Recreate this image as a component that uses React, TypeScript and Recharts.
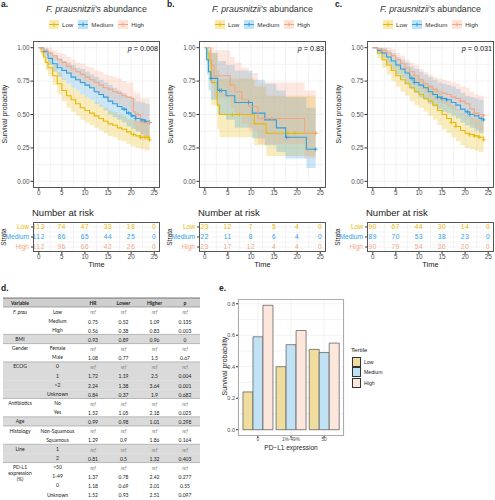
import React from 'react';
import { ComposedChart, ScatterChart, BarChart, Line, Area, Scatter, Bar, XAxis, YAxis, CartesianGrid } from 'recharts';

// ---- Kaplan-Meier curves (time in months) ----
const A_LOW_T = [0, 0.5, 1, 1.5, 2, 3, 4, 5, 6, 7, 8, 9, 10, 11, 12, 13, 14, 15, 16, 17, 18, 19, 20, 21, 22, 23, 24];
const A_LOW_S = [1, 0.97, 0.93, 0.89, 0.85, 0.79, 0.73, 0.68, 0.64, 0.61, 0.58, 0.55, 0.53, 0.51, 0.49, 0.47, 0.45, 0.43, 0.42, 0.4, 0.39, 0.37, 0.35, 0.34, 0.33, 0.33, 0.31];
const A_LOW_LO = [1, 0.94, 0.89, 0.83, 0.79, 0.72, 0.65, 0.6, 0.55, 0.52, 0.49, 0.46, 0.44, 0.42, 0.4, 0.38, 0.36, 0.34, 0.33, 0.31, 0.3, 0.28, 0.26, 0.25, 0.24, 0.23, 0.21];
const A_LOW_HI = [1, 1, 0.98, 0.95, 0.92, 0.87, 0.82, 0.77, 0.73, 0.7, 0.68, 0.65, 0.63, 0.61, 0.59, 0.57, 0.55, 0.53, 0.52, 0.5, 0.49, 0.47, 0.46, 0.45, 0.44, 0.44, 0.42];
const A_LOW_CENS = [20.5, 22, 23, 23.7, 24];

const A_MED_T = [0, 1, 2, 3, 4, 5, 6, 7, 8, 9, 10, 11, 12, 13, 14, 15, 16, 17, 18, 19, 20, 21, 22, 23, 24];
const A_MED_S = [1, 0.97, 0.92, 0.88, 0.85, 0.83, 0.81, 0.78, 0.76, 0.74, 0.72, 0.7, 0.67, 0.65, 0.63, 0.6, 0.58, 0.56, 0.54, 0.51, 0.49, 0.47, 0.46, 0.45, 0.44];
const A_MED_LO = [1, 0.94, 0.87, 0.82, 0.78, 0.76, 0.73, 0.7, 0.68, 0.65, 0.63, 0.61, 0.58, 0.56, 0.53, 0.5, 0.48, 0.46, 0.44, 0.41, 0.39, 0.37, 0.35, 0.34, 0.33];
const A_MED_HI = [1, 1, 0.97, 0.94, 0.92, 0.9, 0.89, 0.87, 0.85, 0.84, 0.82, 0.8, 0.78, 0.76, 0.74, 0.72, 0.7, 0.68, 0.66, 0.63, 0.62, 0.6, 0.59, 0.58, 0.58];
const A_MED_CENS = [18.5, 19.5, 20.2, 21, 22.3, 23, 24];

const A_HIGH_T = [0, 1, 2, 3, 4, 5, 6, 7, 8, 9, 10, 11, 12, 13, 14, 15, 16, 17, 18, 19, 20, 20.5, 21, 22, 24];
const A_HIGH_S = [1, 0.98, 0.96, 0.94, 0.91, 0.89, 0.86, 0.84, 0.82, 0.8, 0.78, 0.76, 0.74, 0.72, 0.7, 0.69, 0.67, 0.66, 0.64, 0.63, 0.62, 0.52, 0.5, 0.44, 0.44];
const A_HIGH_LO = [1, 0.96, 0.93, 0.9, 0.86, 0.84, 0.8, 0.78, 0.75, 0.73, 0.71, 0.69, 0.66, 0.64, 0.62, 0.6, 0.58, 0.57, 0.55, 0.53, 0.51, 0.4, 0.38, 0.31, 0.31];
const A_HIGH_HI = [1, 1, 1, 0.98, 0.96, 0.95, 0.93, 0.91, 0.89, 0.88, 0.86, 0.85, 0.83, 0.82, 0.8, 0.79, 0.78, 0.77, 0.75, 0.74, 0.74, 0.67, 0.66, 0.62, 0.62];
const A_HIGH_CENS = [21.5, 23.5, 24];

const B_LOW_T = [0, 0.4, 0.9, 1.4, 2.7, 3.2, 10.7, 13.3, 24];
const B_LOW_S = [1, 0.96, 0.91, 0.74, 0.57, 0.5, 0.43, 0.36, 0.36];
const B_LOW_LO = [1, 0.88, 0.79, 0.57, 0.39, 0.33, 0.27, 0.19, 0.19];
const B_LOW_HI = [1, 1, 1, 0.96, 0.83, 0.77, 0.71, 0.64, 0.64];
const B_LOW_CENS = [6, 7.5, 18, 19.5, 24];

const B_MED_T = [0, 0.4, 0.8, 1.3, 2.8, 4.6, 6.5, 10.3, 13, 15.5, 17.5, 22, 24];
const B_MED_S = [1, 0.91, 0.82, 0.77, 0.68, 0.64, 0.59, 0.51, 0.46, 0.4, 0.33, 0.24, 0.24];
const B_MED_LO = [1, 0.8, 0.68, 0.61, 0.5, 0.46, 0.4, 0.32, 0.27, 0.22, 0.17, 0.1, 0.1];
const B_MED_HI = [1, 1, 0.98, 0.96, 0.9, 0.87, 0.83, 0.76, 0.73, 0.68, 0.63, 0.55, 0.55];
const B_MED_CENS = [1.3, 3.2, 3.6, 9.5, 17.7, 24];

const B_HIGH_T = [0, 1.3, 2, 5.5, 6.5, 8, 9.5, 11.5, 21.6, 24];
const B_HIGH_S = [1, 0.87, 0.79, 0.72, 0.67, 0.61, 0.56, 0.47, 0.36, 0.36];
const B_HIGH_LO = [1, 0.73, 0.63, 0.55, 0.5, 0.43, 0.38, 0.28, 0.17, 0.17];
const B_HIGH_HI = [1, 1, 0.98, 0.93, 0.89, 0.85, 0.81, 0.74, 0.68, 0.68];
const B_HIGH_CENS = [12.5, 13.5, 14.5, 24];

const C_T = [0, 1, 2, 3, 4, 5, 6, 7, 8, 9, 10, 11, 12, 13, 14, 15, 16, 17, 18, 19, 20, 21, 22, 23, 24];
const C_LOW_S = [1, 0.96, 0.91, 0.87, 0.83, 0.79, 0.76, 0.73, 0.7, 0.67, 0.65, 0.62, 0.6, 0.57, 0.53, 0.5, 0.47, 0.44, 0.41, 0.38, 0.36, 0.35, 0.34, 0.33, 0.31];
const C_LOW_LO = [1, 0.92, 0.85, 0.8, 0.75, 0.71, 0.67, 0.64, 0.6, 0.57, 0.55, 0.52, 0.49, 0.46, 0.42, 0.39, 0.36, 0.33, 0.3, 0.27, 0.25, 0.24, 0.23, 0.22, 0.2];
const C_LOW_HI = [1, 1, 0.97, 0.94, 0.91, 0.88, 0.85, 0.83, 0.8, 0.78, 0.76, 0.74, 0.72, 0.69, 0.66, 0.63, 0.6, 0.57, 0.54, 0.51, 0.49, 0.48, 0.47, 0.46, 0.44];
const C_LOW_CENS = [17, 18, 21, 22, 23, 24];
const C_MED_S = [1, 0.98, 0.96, 0.93, 0.9, 0.87, 0.84, 0.81, 0.77, 0.74, 0.72, 0.7, 0.67, 0.65, 0.63, 0.62, 0.61, 0.59, 0.57, 0.54, 0.52, 0.5, 0.49, 0.47, 0.46];
const C_MED_LO = [1, 0.95, 0.92, 0.88, 0.84, 0.8, 0.77, 0.73, 0.69, 0.66, 0.63, 0.61, 0.58, 0.56, 0.54, 0.52, 0.51, 0.49, 0.47, 0.44, 0.42, 0.4, 0.38, 0.36, 0.35];
const C_MED_HI = [1, 1, 1, 0.98, 0.96, 0.93, 0.91, 0.89, 0.86, 0.84, 0.82, 0.8, 0.78, 0.76, 0.74, 0.73, 0.72, 0.71, 0.69, 0.66, 0.64, 0.63, 0.62, 0.61, 0.6];
const C_MED_CENS = [8.5, 9, 14, 15, 16, 20.5, 21, 23.5, 24];
const C_HIGH_S = [1, 0.99, 0.98, 0.96, 0.94, 0.91, 0.88, 0.85, 0.82, 0.79, 0.76, 0.73, 0.71, 0.69, 0.67, 0.66, 0.65, 0.63, 0.62, 0.6, 0.58, 0.54, 0.51, 0.5, 0.49];
const C_HIGH_LO = [1, 0.97, 0.95, 0.92, 0.9, 0.86, 0.83, 0.79, 0.75, 0.72, 0.69, 0.66, 0.63, 0.61, 0.59, 0.58, 0.56, 0.54, 0.53, 0.5, 0.48, 0.43, 0.4, 0.38, 0.37];
const C_HIGH_HI = [1, 1, 1, 1, 0.99, 0.96, 0.94, 0.91, 0.89, 0.87, 0.84, 0.82, 0.8, 0.78, 0.77, 0.76, 0.75, 0.74, 0.73, 0.71, 0.7, 0.67, 0.65, 0.64, 0.63];
const C_HIGH_CENS = [19, 22, 24];

// ---- number at risk ----
const RISK_TIMES = [0, 5, 10, 15, 20, 25];
const A_RISK_LOW = [113, 74, 47, 33, 18, 0];
const A_RISK_MED = [112, 86, 65, 44, 25, 0];
const A_RISK_HIGH = [112, 96, 66, 42, 26, 0];
const B_RISK_LOW = [23, 12, 7, 5, 4, 0];
const B_RISK_MED = [22, 11, 8, 6, 4, 0];
const B_RISK_HIGH = [23, 17, 12, 4, 4, 0];
const C_RISK_LOW = [90, 67, 44, 30, 14, 0];
const C_RISK_MED = [89, 70, 53, 38, 23, 0];
const C_RISK_HIGH = [90, 79, 54, 36, 20, 0];

// ---- panel e ----
const PDL1_CATS = ['0', '1%-49%', '50'];
const E_LOW = [0.24, 0.4, 0.51];
const E_MED = [0.59, 0.54, 0.49];
const E_HIGH = [0.79, 0.63, 0.55];

// ---- panel d table ----
const T_VARIABLE = ['F. prau', '', '', 'BMI', 'Gender', '', 'ECOG', '', '', '', 'Antibiotics', '', 'Age', 'Histology', '', 'Line', '', 'PD-L1\nexpression\n(%)', '', '', ''];
const T_LEVEL = ['Low', 'Medium', 'High', '', 'Female', 'Male', '0', '1', '>2', 'Unknown', 'No', 'Yes', '', 'Non-Squamous', 'Squamous', '1', '2', '>50', '1-49', '0', 'Unknown'];
const T_HR = ['ref', '0.75', '0.56', '0.93', 'ref', '1.08', 'ref', '1.72', '2.24', '0.84', 'ref', '1.52', '0.99', 'ref', '1.29', 'ref', '0.81', 'ref', '1.37', '1.18', '1.52'];
const T_LOWER = ['ref', '0.52', '0.38', '0.89', 'ref', '0.77', 'ref', '1.19', '1.38', '0.37', 'ref', '1.05', '0.98', 'ref', '0.9', 'ref', '0.5', 'ref', '0.78', '0.69', '0.93'];
const T_HIGHER = ['ref', '1.09', '0.83', '0.96', 'ref', '1.5', 'ref', '2.5', '3.64', '1.9', 'ref', '2.18', '1.01', 'ref', '1.86', 'ref', '1.32', 'ref', '2.42', '2.01', '2.51'];
const T_P = ['ref', '0.135', '0.003', '0', 'ref', '0.67', 'ref', '0.004', '0.001', '0.682', 'ref', '0.025', '0.298', 'ref', '0.164', 'ref', '0.403', 'ref', '0.277', '0.55', '0.097'];
const T_GROUP = [0, 0, 0, 1, 2, 2, 3, 3, 3, 3, 4, 4, 5, 6, 6, 7, 7, 8, 8, 8, 8];

const FONT = '"Liberation Sans", Arial, sans-serif';
const COLORS: Record<string, string> = { Low: '#E7B800', Medium: '#2E9FDF', High: '#F4A582' };
const BAR_FILL: Record<string, string> = { Low: '#EEDD9F', Medium: '#C0E2F4', High: '#FDE6DB' };
const TIME_TICKS = [0, 5, 10, 15, 20, 25];
const TIME_GRID = [0, 2.5, 5, 7.5, 10, 12.5, 15, 17.5, 20, 22.5, 25];
const SURV_TICKS = [0, 0.25, 0.5, 0.75, 1];
const SURV_GRID = [0, 0.125, 0.25, 0.375, 0.5, 0.625, 0.75, 0.875, 1];

const stepAt = (t: number[], s: number[], x: number) => {
  let v = s[0];
  t.forEach((ti, i) => { if (ti <= x) v = s[i]; });
  return v;
};

const makeSeries = (name: string, t: number[], s: number[], lo: number[], hi: number[], cens: number[]) => ({
  name,
  rows: t.map((x, i) => ({ t: x, s: s[i], band: [lo[i], hi[i]] })),
  cens: cens.map((c) => ({ t: c, s: stepAt(t, s, c) })),
});

const PANEL_A = [
  makeSeries('Low', A_LOW_T, A_LOW_S, A_LOW_LO, A_LOW_HI, A_LOW_CENS),
  makeSeries('Medium', A_MED_T, A_MED_S, A_MED_LO, A_MED_HI, A_MED_CENS),
  makeSeries('High', A_HIGH_T, A_HIGH_S, A_HIGH_LO, A_HIGH_HI, A_HIGH_CENS),
];
const PANEL_B = [
  makeSeries('Low', B_LOW_T, B_LOW_S, B_LOW_LO, B_LOW_HI, B_LOW_CENS),
  makeSeries('Medium', B_MED_T, B_MED_S, B_MED_LO, B_MED_HI, B_MED_CENS),
  makeSeries('High', B_HIGH_T, B_HIGH_S, B_HIGH_LO, B_HIGH_HI, B_HIGH_CENS),
];
const PANEL_C = [
  makeSeries('Low', C_T, C_LOW_S, C_LOW_LO, C_LOW_HI, C_LOW_CENS),
  makeSeries('Medium', C_T, C_MED_S, C_MED_LO, C_MED_HI, C_MED_CENS),
  makeSeries('High', C_T, C_HIGH_S, C_HIGH_LO, C_HIGH_HI, C_HIGH_CENS),
];

const makeRisk = (low: number[], med: number[], high: number[]) => [
  { name: 'Low', rows: RISK_TIMES.map((t, i) => ({ t, row: 3, n: low[i] })) },
  { name: 'Medium', rows: RISK_TIMES.map((t, i) => ({ t, row: 2, n: med[i] })) },
  { name: 'High', rows: RISK_TIMES.map((t, i) => ({ t, row: 1, n: high[i] })) },
];

const Plus = (props: any) => {
  const { cx, cy, fill } = props;
  if (cx == null || cy == null) return null;
  return (
    <g stroke={fill} strokeWidth={0.9}>
      <line x1={cx - 2} x2={cx + 2} y1={cy} y2={cy} />
      <line x1={cx} x2={cx} y1={cy - 2} y2={cy + 2} />
    </g>
  );
};

const tickStyle = { fontSize: 6.3, fill: '#4D4D4D', fontFamily: FONT };
const abs = (extra: React.CSSProperties): React.CSSProperties => ({ position: 'absolute', ...extra });
const rotated = (x: number, y: number, size: number): React.CSSProperties => ({
  position: 'absolute', left: x, top: y, transform: 'translate(-50%, -50%) rotate(-90deg)',
  whiteSpace: 'nowrap', fontSize: size, color: '#222', lineHeight: 1,
});

const LegendSwatch = ({ color }: { color: string }) => (
  <svg width={10} height={9}>
    <rect x={0} y={0} width={10} height={9} fill={color} fillOpacity={0.3} />
    <line x1={0} x2={10} y1={4.5} y2={4.5} stroke={color} strokeWidth={1} />
    <line x1={5} x2={5} y1={2.5} y2={6.5} stroke={color} strokeWidth={1} />
  </svg>
);

const KmPanel = ({ left, letter, pValue, series, risk }: any) => (
  <div style={abs({ left, top: 0, width: 162, height: 275 })}>
    <div style={abs({ left: 1, top: -1, fontSize: 8.5, fontWeight: 'bold' })}>{letter}</div>
    <div style={abs({ left: 20, top: 4, width: 153, textAlign: 'center', fontSize: 8.8, color: '#333', whiteSpace: 'nowrap' })}>
      <i>F. prausnitzii's</i> abundance
    </div>
    <div style={abs({ left: 23, top: 19.5, width: 147, display: 'flex', justifyContent: 'center', gap: 5, fontSize: 6.2, color: '#333', alignItems: 'center' })}>
      {['Low', 'Medium', 'High'].map((g) => (
        <div key={g} style={{ display: 'flex', alignItems: 'center', gap: 3 }}>
          <LegendSwatch color={COLORS[g]} />
          <span>{g}</span>
        </div>
      ))}
    </div>
    <div style={abs({ left: 0, top: 0 })}>
      <ComposedChart width={162} height={198} margin={{ top: 41, right: 2, bottom: 0, left: 0 }}>
        <CartesianGrid stroke="#EBEBEB" strokeWidth={0.6} verticalValues={TIME_GRID} horizontalValues={SURV_GRID} />
        <XAxis type="number" dataKey="t" domain={[-1.25, 26.25]} ticks={TIME_TICKS} allowDataOverflow height={10} interval={0}
          axisLine={false} tickSize={2.5} tickMargin={0} tickLine={{ stroke: '#333' }} tick={tickStyle} />
        <YAxis type="number" domain={[-0.05, 1.05]} ticks={SURV_TICKS} allowDataOverflow width={33} interval={0}
          axisLine={false} tickSize={2.5} tickMargin={1} tickLine={{ stroke: '#333' }} tick={tickStyle}
          tickFormatter={(v: number) => v.toFixed(2)} />
        {series.map((s: any) => (
          <Area key={'a' + s.name} data={s.rows} dataKey="band" type="stepAfter" stroke="none"
            fill={COLORS[s.name]} fillOpacity={0.25} isAnimationActive={false} />
        ))}
        {series.map((s: any) => (
          <Line key={'l' + s.name} data={s.rows} dataKey="s" type="stepAfter" stroke={COLORS[s.name]}
            strokeWidth={1.1} dot={false} isAnimationActive={false} />
        ))}
        {series.map((s: any) => (
          <Scatter key={'c' + s.name} data={s.cens} dataKey="s" fill={COLORS[s.name]} shape={Plus} isAnimationActive={false} />
        ))}
      </ComposedChart>
    </div>
    <div style={abs({ left: 33, top: 41, width: 127, height: 147, border: '1.2px solid #555', boxSizing: 'border-box' })} />
    <div style={abs({ right: 4, top: 44, fontSize: 7.2, color: '#111', whiteSpace: 'nowrap' })}>
      <i>p</i> = {pValue}
    </div>
    <div style={rotated(4, 114, 7)}>Survival probability</div>

    <div style={abs({ left: 32, top: 207, fontSize: 9.5, color: '#222', whiteSpace: 'nowrap' })}>Number at risk</div>
    <div style={abs({ left: 0, top: 200 })}>
      <ScatterChart width={162} height={62} margin={{ top: 22, right: 2, bottom: 0, left: 0 }}>
        <CartesianGrid stroke="#EBEBEB" strokeWidth={0.6} verticalValues={TIME_GRID} horizontalValues={[1, 1.5, 2, 2.5, 3]} />
        <XAxis type="number" dataKey="t" domain={[-1.25, 26.25]} ticks={TIME_TICKS} allowDataOverflow height={10} interval={0}
          axisLine={false} tickSize={2.5} tickMargin={0} tickLine={{ stroke: '#333' }} tick={tickStyle} />
        <YAxis type="number" dataKey="row" domain={[0.5, 3.5]} ticks={[1, 2, 3]} width={33} interval={0}
          axisLine={false} tickSize={2} tickLine={{ stroke: '#333' }}
          tick={(p: any) => {
            const name = ['High', 'Medium', 'Low'][p.payload.value - 1];
            return (
              <text x={p.x} y={p.y} dy={2.3} textAnchor="end" fontSize={6.6} fontFamily={FONT} fill={COLORS[name]}>{name}</text>
            );
          }} />
        {risk.map((r: any) => (
          <Scatter key={r.name} data={r.rows} fill={COLORS[r.name]} isAnimationActive={false}
            shape={(p: any) => (
              <text x={p.cx} y={p.cy} dy={2.3} textAnchor="middle" fontSize={6.5} fontFamily={FONT}
                fill={COLORS[r.name]} letterSpacing={0.7}>{p.payload.n}</text>
            )} />
        ))}
      </ScatterChart>
    </div>
    <div style={abs({ left: 33, top: 222, width: 127, height: 30, border: '1.2px solid #555', boxSizing: 'border-box' })} />
    <div style={rotated(4, 237, 6.5)}>Strata</div>
    <div style={abs({ left: 33, top: 260, width: 127, textAlign: 'center', fontSize: 7.5, color: '#222' })}>Time</div>
  </div>
);

const TABLE_TOP = 298;
const HEAD_H = 9;
const ROW_H = 9.15;
const COL_X = [20, 57.5, 93, 123.5, 154.5, 185];

const TableD = () => {
  const rowTop = (i: number) => TABLE_TOP + HEAD_H + i * ROW_H;
  const tf = { fontFamily: 'Lato, "Open Sans", sans-serif', fontSize: 5 };
  const cell = (txt: string, x: number, y: number, key: string) => (
    <text key={key} x={x} y={y} textAnchor="middle" dominantBaseline="central" {...tf}
      fill={txt === 'ref' ? '#8A8A8A' : '#222'} fontStyle={txt === 'ref' ? 'italic' : 'normal'}>{txt}</text>
  );
  return (
    <svg width={205} height={500} style={abs({ left: 0, top: 0 })}>
      <rect x={3} y={TABLE_TOP} width={197} height={HEAD_H} fill="#CFCFCF" />
      {T_LEVEL.map((_, i) => (T_GROUP[i] % 2 === 1 ? (
        <rect key={'bg' + i} x={3} y={rowTop(i)} width={197} height={ROW_H + 0.2} fill="#DADADA" />
      ) : null))}
      <line x1={3} x2={200} y1={TABLE_TOP} y2={TABLE_TOP} stroke="#555" strokeWidth={0.8} />
      <line x1={3} x2={200} y1={TABLE_TOP + HEAD_H} y2={TABLE_TOP + HEAD_H} stroke="#777" strokeWidth={0.6} />
      {T_LEVEL.map((_, i) => (i < T_LEVEL.length - 1 && T_GROUP[i] !== T_GROUP[i + 1] ? (
        <line key={'sep' + i} x1={3} x2={200} y1={rowTop(i + 1)} y2={rowTop(i + 1)} stroke="#999" strokeWidth={0.6} />
      ) : null))}
      {['Variable', '', 'HR', 'Lower', 'Higher', 'p'].map((h, j) => (
        <text key={'h' + j} x={COL_X[j]} y={TABLE_TOP + HEAD_H / 2} textAnchor="middle" dominantBaseline="central"
          {...tf} fontWeight="bold" fill="#222">{h}</text>
      ))}
      {T_VARIABLE.map((v, i) => v ? v.split('\n').map((line, k) => (
        <text key={'v' + i + k} x={COL_X[0]} y={rowTop(i) + ROW_H / 2 + k * 5.8} textAnchor="middle" dominantBaseline="central"
          {...tf} fill="#222" fontStyle={v === 'F. prau' ? 'italic' : 'normal'}>{line}</text>
      )) : null)}
      {T_LEVEL.map((v, i) => cell(v, COL_X[1], rowTop(i) + ROW_H / 2, 'lv' + i))}
      {T_HR.map((v, i) => cell(v, COL_X[2], rowTop(i) + ROW_H / 2 + 0.8, 'hr' + i))}
      {T_LOWER.map((v, i) => cell(v, COL_X[3], rowTop(i) + ROW_H / 2 + 0.8, 'lo' + i))}
      {T_HIGHER.map((v, i) => cell(v, COL_X[4], rowTop(i) + ROW_H / 2 + 0.8, 'hi' + i))}
      {T_P.map((v, i) => cell(v, COL_X[5], rowTop(i) + ROW_H / 2 + 0.8, 'p' + i))}
    </svg>
  );
};

const E_DATA = PDL1_CATS.map((c, i) => ({ cat: c, Low: E_LOW[i], Medium: E_MED[i], High: E_HIGH[i] }));

const PanelE = () => (
  <>
    <div style={abs({ left: 219, top: 283, fontSize: 8.5, fontWeight: 'bold' })}>e.</div>
    <div style={abs({ left: 200, top: 285 })}>
      <BarChart width={150} height={165} data={E_DATA} margin={{ top: 14, right: 6, bottom: 6, left: 0 }}
        barGap={0} barCategoryGap="5%">
        <CartesianGrid stroke="#EBEBEB" strokeWidth={0.6} horizontalValues={[0, 0.1, 0.2, 0.3, 0.4, 0.5, 0.6, 0.7, 0.8]} />
        <XAxis dataKey="cat" height={8} padding={{ left: 3.3, right: 3.3 }} axisLine={false} tickSize={2} interval={0}
          tickMargin={0} tickLine={{ stroke: '#333' }} tick={{ ...tickStyle, fontSize: 4.8 }} />
        <YAxis type="number" domain={[-0.04, 0.83]} ticks={[0, 0.2, 0.4, 0.6, 0.8]} allowDataOverflow width={38} interval={0}
          axisLine={false} tickSize={2} tickMargin={1} tickLine={{ stroke: '#333' }} tick={{ ...tickStyle, fontSize: 5.5 }}
          tickFormatter={(v: number) => v.toFixed(1)} />
        {['Low', 'Medium', 'High'].map((g) => (
          <Bar key={g} dataKey={g} fill={BAR_FILL[g]} stroke="#555" strokeWidth={0.7} isAnimationActive={false} />
        ))}
      </BarChart>
    </div>
    <div style={abs({ left: 238, top: 299, width: 106, height: 137, border: '1px solid #ABABAB', boxSizing: 'border-box' })} />
    <div style={rotated(224, 366, 7)}>Survival probability</div>
    <div style={abs({ left: 238, top: 444, width: 106, textAlign: 'center', fontSize: 6.5, color: '#222' })}>PD−L1 expression</div>
    <div style={abs({ left: 351, top: 346, fontSize: 6.2, color: '#222' })}>Tertile</div>
    {['Low', 'Medium', 'High'].map((g, i) => (
      <React.Fragment key={g}>
        <div style={abs({ left: 352, top: 357 + i * 10.3, width: 9, height: 10, background: BAR_FILL[g], border: '0.8px solid #333', boxSizing: 'border-box' })} />
        <div style={abs({ left: 364, top: 359 + i * 10.3, fontSize: 5.2, color: '#222' })}>{g}</div>
      </React.Fragment>
    ))}
  </>
);

export default function App() {
  return (
    <div style={{ position: 'absolute', left: 0, top: 0, width: 495, height: 500, overflow: 'hidden', background: '#fff', fontFamily: FONT, color: '#222' }}>
      <KmPanel left={0} letter="a." pValue="0.008" series={PANEL_A} risk={makeRisk(A_RISK_LOW, A_RISK_MED, A_RISK_HIGH)} />
      <KmPanel left={166} letter="b." pValue="0.83" series={PANEL_B} risk={makeRisk(B_RISK_LOW, B_RISK_MED, B_RISK_HIGH)} />
      <KmPanel left={334} letter="c." pValue="0.031" series={PANEL_C} risk={makeRisk(C_RISK_LOW, C_RISK_MED, C_RISK_HIGH)} />
      <div style={abs({ left: 1, top: 283, fontSize: 8.5, fontWeight: 'bold' })}>d.</div>
      <TableD />
      <PanelE />
    </div>
  );
}
